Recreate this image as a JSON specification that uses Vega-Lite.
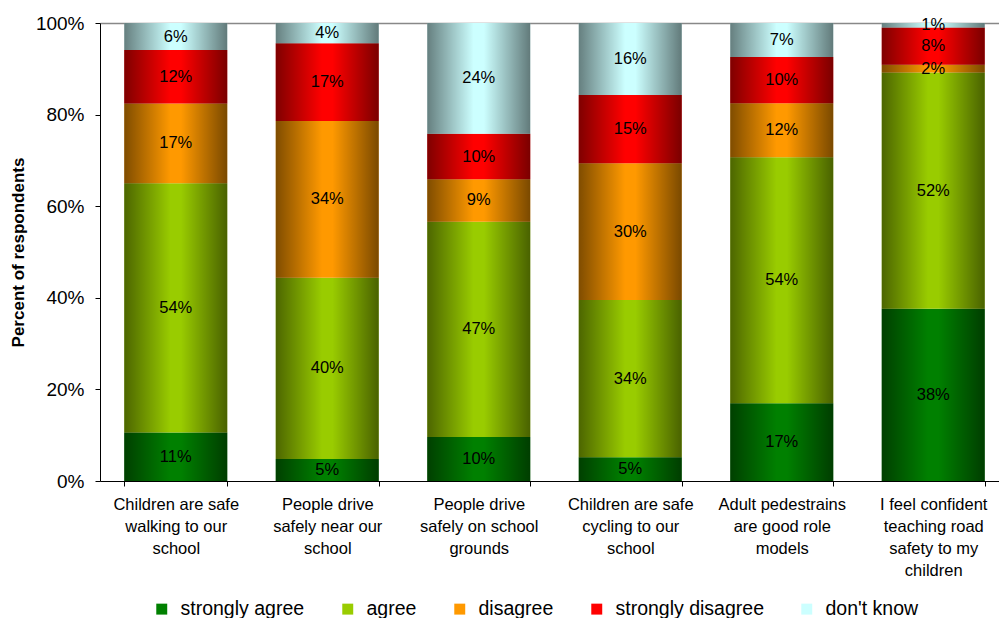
{
  "$schema": "https://vega.github.io/schema/vega-lite/v6.json",
  "autosize": "none",
  "width": 909,
  "height": 458,
  "padding": {"left": 100, "top": 23, "right": 0, "bottom": 137},
  "background": "white",
  "config": {
    "font": "Liberation Sans",
    "view": {"stroke": null}
  },
  "data": {
    "values": [
      {"q": "Children are safe|walking to our|school", "qi": 1, "resp": "strongly agree", "o": 1, "v": 0.106},
      {"q": "Children are safe|walking to our|school", "qi": 1, "resp": "agree", "o": 2, "v": 0.544},
      {"q": "Children are safe|walking to our|school", "qi": 1, "resp": "disagree", "o": 3, "v": 0.174},
      {"q": "Children are safe|walking to our|school", "qi": 1, "resp": "strongly disagree", "o": 4, "v": 0.117},
      {"q": "Children are safe|walking to our|school", "qi": 1, "resp": "don't know", "o": 5, "v": 0.059},
      {"q": "People drive|safely near our|school", "qi": 2, "resp": "strongly agree", "o": 1, "v": 0.048},
      {"q": "People drive|safely near our|school", "qi": 2, "resp": "agree", "o": 2, "v": 0.396},
      {"q": "People drive|safely near our|school", "qi": 2, "resp": "disagree", "o": 3, "v": 0.342},
      {"q": "People drive|safely near our|school", "qi": 2, "resp": "strongly disagree", "o": 4, "v": 0.170},
      {"q": "People drive|safely near our|school", "qi": 2, "resp": "don't know", "o": 5, "v": 0.044},
      {"q": "People drive|safely on school|grounds", "qi": 3, "resp": "strongly agree", "o": 1, "v": 0.096},
      {"q": "People drive|safely on school|grounds", "qi": 3, "resp": "agree", "o": 2, "v": 0.470},
      {"q": "People drive|safely on school|grounds", "qi": 3, "resp": "disagree", "o": 3, "v": 0.093},
      {"q": "People drive|safely on school|grounds", "qi": 3, "resp": "strongly disagree", "o": 4, "v": 0.099},
      {"q": "People drive|safely on school|grounds", "qi": 3, "resp": "don't know", "o": 5, "v": 0.242},
      {"q": "Children are safe|cycling to our|school", "qi": 4, "resp": "strongly agree", "o": 1, "v": 0.052},
      {"q": "Children are safe|cycling to our|school", "qi": 4, "resp": "agree", "o": 2, "v": 0.343},
      {"q": "Children are safe|cycling to our|school", "qi": 4, "resp": "disagree", "o": 3, "v": 0.299},
      {"q": "Children are safe|cycling to our|school", "qi": 4, "resp": "strongly disagree", "o": 4, "v": 0.149},
      {"q": "Children are safe|cycling to our|school", "qi": 4, "resp": "don't know", "o": 5, "v": 0.157},
      {"q": "Adult pedestrains|are good role|models", "qi": 5, "resp": "strongly agree", "o": 1, "v": 0.170},
      {"q": "Adult pedestrains|are good role|models", "qi": 5, "resp": "agree", "o": 2, "v": 0.537},
      {"q": "Adult pedestrains|are good role|models", "qi": 5, "resp": "disagree", "o": 3, "v": 0.118},
      {"q": "Adult pedestrains|are good role|models", "qi": 5, "resp": "strongly disagree", "o": 4, "v": 0.101},
      {"q": "Adult pedestrains|are good role|models", "qi": 5, "resp": "don't know", "o": 5, "v": 0.074},
      {"q": "I feel confident|teaching road|safety to my|children", "qi": 6, "resp": "strongly agree", "o": 1, "v": 0.376},
      {"q": "I feel confident|teaching road|safety to my|children", "qi": 6, "resp": "agree", "o": 2, "v": 0.516},
      {"q": "I feel confident|teaching road|safety to my|children", "qi": 6, "resp": "disagree", "o": 3, "v": 0.017},
      {"q": "I feel confident|teaching road|safety to my|children", "qi": 6, "resp": "strongly disagree", "o": 4, "v": 0.081},
      {"q": "I feel confident|teaching road|safety to my|children", "qi": 6, "resp": "don't know", "o": 5, "v": 0.010}
    ]
  },
  "transform": [
    {"stack": "v", "groupby": ["q"], "sort": [{"field": "o", "order": "ascending"}], "as": ["v0", "v1"]},
    {"calculate": "(datum.v0 + datum.v1) / 2", "as": "mid"}
  ],
  "encoding": {
    "x": {
      "field": "q", "type": "nominal",
      "sort": {"field": "qi", "op": "min", "order": "ascending"},
      "scale": {"paddingInner": 0.32, "paddingOuter": 0.16},
      "axis": {
        "title": null,
        "labelAngle": 0,
        "labelExpr": "split(datum.label, '|')",
        "labelFontSize": 16.5,
        "labelColor": "black",
        "labelLineHeight": 22,
        "labelPadding": 10,
        "labelLimit": 200,
        "tickBand": "extent",
        "tickSize": 5,
        "tickColor": "black",
        "domainColor": "black",
        "grid": false
      }
    }
  },
  "layer": [
    {
      "mark": {"type": "bar"},
      "encoding": {
        "y": {
          "field": "v0", "type": "quantitative",
          "scale": {"domain": [0, 1], "nice": false},
          "axis": {
            "title": "Percent of respondents",
            "titleFontSize": 17,
            "titleFontWeight": "bold",
            "titleColor": "black",
            "titlePadding": 8,
            "format": ".0%",
            "values": [0, 0.2, 0.4, 0.6, 0.8, 1],
            "labelFontSize": 19,
            "labelColor": "black",
            "labelPadding": 11,
            "tickSize": 5,
            "tickColor": "black",
            "domainColor": "black",
            "grid": true,
            "gridColor": "#888888",
            "gridWidth": 1.5,
            "gridOpacity": {"condition": {"test": "datum.value === 1", "value": 1}, "value": 0}
          }
        },
        "y2": {"field": "v1"},
        "color": {
          "field": "resp", "type": "nominal",
          "sort": ["strongly agree", "agree", "disagree", "strongly disagree", "don't know"],
          "scale": {
            "domain": ["strongly agree", "agree", "disagree", "strongly disagree", "don't know"],
            "range": ["#008000", "#99CC00", "#FF9900", "#FF0000", "#CCFFFF"]
          },
          "legend": {
            "title": null,
            "orient": "none",
            "legendX": 52,
            "legendY": 576,
            "direction": "horizontal",
            "symbolType": "square",
            "symbolSize": 120,
            "symbolStrokeWidth": 0,
            "labelFontSize": 19.5,
            "labelColor": "black",
            "labelLimit": 300,
            "columnPadding": 33,
            "labelOffset": 9
          }
        }
      }
    },
    {
      "mark": {
        "type": "bar",
        "fill": {
          "gradient": "linear", "x1": 0, "y1": 0, "x2": 1, "y2": 0,
          "stops": [
            {"offset": 0, "color": "rgba(0,0,0,0.5)"},
            {"offset": 0.45, "color": "rgba(0,0,0,0)"},
            {"offset": 0.55, "color": "rgba(0,0,0,0)"},
            {"offset": 1, "color": "rgba(0,0,0,0.52)"}
          ]
        }
      },
      "encoding": {
        "y": {"field": "v0", "type": "quantitative"},
        "y2": {"field": "v1"}
      }
    },
    {
      "mark": {"type": "text", "fontSize": 16.5, "color": "black", "baseline": "middle", "align": "center"},
      "encoding": {
        "y": {"field": "mid", "type": "quantitative"},
        "text": {"field": "v", "type": "quantitative", "format": ".0%"}
      }
    }
  ]
}
